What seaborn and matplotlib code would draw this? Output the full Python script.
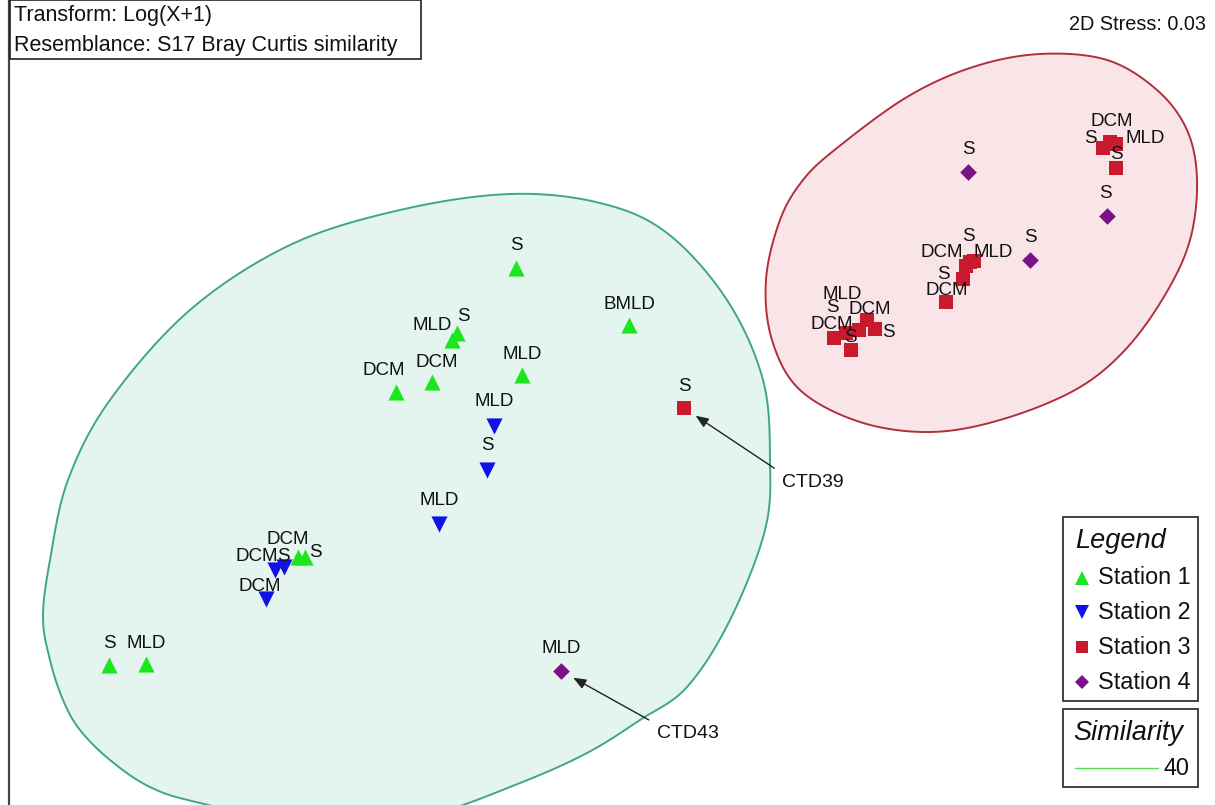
import numpy as np
import pandas as pd
import seaborn as sns
import matplotlib
matplotlib.use("Agg")
import matplotlib.pyplot as plt
from matplotlib.patches import Polygon, Rectangle
from matplotlib.lines import Line2D

# ---------------- data (NMDS coordinates) ----------------
station = (["Station 1"] * 11 + ["Station 2"] * 6 + ["Station 3"] * 16 + ["Station 4"] * 4)
depth = ["S", "BMLD", "MLD", "S", "DCM", "DCM", "MLD", "DCM", "S", "S", "MLD",
         "MLD", "S", "MLD", "DCM", "S", "DCM",
         "S", "S", "DCM", "MLD", "S", "S", "DCM", "MLD", "S", "DCM",
         "DCM", "S", "DCM", "S", "MLD", "S",
         "S", "S", "S", "MLD"]
mds1 = [-0.84, 0.29, -1.48, -1.43, -2.04, -1.68, -0.78, -3.02, -2.95, -4.91, -4.54,
        -1.06, -1.13, -1.61, -3.25, -3.16, -3.34,
        0.84, 5.03, 5.10, 5.16, 5.16, 3.70, 3.66, 3.74, 3.63, 3.46,
        2.34, 2.51, 2.67, 2.75, 2.46, 2.59,
        3.68, 5.07, 4.30, -0.39]
mds2 = [1.32, 0.75, 0.60, 0.67, 0.08, 0.18, 0.25, -1.57, -1.57, -2.65, -2.64,
        -0.26, -0.70, -1.24, -1.70, -1.67, -1.99,
        -0.08, 2.52, 2.58, 2.56, 2.32, 1.38, 1.34, 1.39, 1.21, 0.98,
        0.62, 0.50, 0.80, 0.71, 0.67, 0.70,
        2.28, 1.84, 1.40, -2.71]

# label offsets (pixels) for each sample label
lab_dx = [0, 0, -20, 6, -12, 5, 0, -10, 10, 0, 0,
          0, 0, 0, -18, -1, -6,
          0, -13, 2, 29, 0, -2, -24, 19, -20, 1,
          -2, -1, 3, 13, -4, -27,
          0, -2, 0, 0]
lab_dy = [25, 23, 17, 19, 24, 22, 23, 20, 7, 24, 23,
          27, 27, 26, 16, 13, 15,
          24, 12, 23, 8, 16, 28, 16, 11, 7, 14,
          16, 15, 13, -1, 41, 25,
          25, 25, 25, 25]

# 40% similarity contours (NMDS units)
green_x = [-2.00, -0.90, 0.00, 0.67, 1.27, 1.63, 1.70, 1.65, 1.30, 0.87, 0.40, -0.13,
           -0.80, -1.70, -2.70, -4.00, -4.50, -4.90, -5.20, -5.37, -5.50, -5.57,
           -5.50, -5.32, -4.90, -4.10, -3.10]
green_y = [1.90, 2.06, 1.97, 1.67, 1.00, 0.20, -0.60, -1.30, -2.20, -2.87, -3.20, -3.53,
           -3.83, -4.15, -4.30, -4.03, -3.87, -3.60, -3.30, -3.00, -2.60, -2.17,
           -1.60, -0.80, 0.00, 0.90, 1.55]
red_x = [2.37, 3.07, 3.73, 4.40, 5.07, 5.57, 5.87, 5.97, 5.90, 5.65, 5.25, 4.75,
         4.00, 3.30, 2.60, 2.00, 1.72, 1.66, 1.80, 2.03]
red_y = [2.52, 3.03, 3.33, 3.46, 3.40, 3.10, 2.70, 2.20, 1.60, 1.05, 0.50, 0.10,
         -0.20, -0.32, -0.22, 0.10, 0.60, 1.20, 1.80, 2.20]

stations = ["Station 1", "Station 2", "Station 3", "Station 4"]
markers = {"Station 1": "^", "Station 2": "v", "Station 3": "s", "Station 4": "D"}
palette = {"Station 1": "#1ee61e", "Station 2": "#1212e6", "Station 3": "#c81a2c", "Station 4": "#7a1186"}
sizes = {"Station 1": 135, "Station 2": 135, "Station 3": 100, "Station 4": 72}

annot_idx = [17, 36]
annot_txt = ["CTD39", "CTD43"]
annot_off = [(129, -72), (127, -60)]

# ---------------- figure ----------------
W, H = 1215, 805
sns.set_theme(style="white")
plt.rcParams["font.family"] = ["Liberation Sans", "DejaVu Sans"]

fig = plt.figure(figsize=(W / 100, H / 100), dpi=100)
fig.patch.set_facecolor("white")
ax = fig.add_axes([9 / W, 0, 1 - 9 / W, 1])
ax.set_xlim(-5.91, 6.15)
ax.set_ylim(-4.05, 4.00)
ax.set_xticks([])
ax.set_yticks([])
for k in ["right", "bottom", "top"]:
    ax.spines[k].set_visible(False)
ax.spines["left"].set_color("#444444")
ax.spines["left"].set_linewidth(1.6)


def smooth_closed(xs, ys, n=40):
    P = np.column_stack([xs, ys])
    N = len(P)
    out = []
    t = np.linspace(0, 1, n, endpoint=False)[:, None]
    for i in range(N):
        p0, p1, p2, p3 = P[(i - 1) % N], P[i], P[(i + 1) % N], P[(i + 2) % N]
        out.append(0.5 * ((2 * p1) + (-p0 + p2) * t + (2 * p0 - 5 * p1 + 4 * p2 - p3) * t ** 2
                          + (-p0 + 3 * p1 - 3 * p2 + p3) * t ** 3))
    return np.vstack(out)


ax.add_patch(Polygon(smooth_closed(green_x, green_y), closed=True, facecolor="#e4f4ee",
                     edgecolor="#3fa882", lw=1.4, zorder=1))
ax.add_patch(Polygon(smooth_closed(red_x, red_y), closed=True, facecolor="#f9e5e7",
                     edgecolor="#b0303c", lw=1.4, zorder=1))

df = pd.DataFrame({"station": station, "depth": depth, "mds1": mds1, "mds2": mds2})
for st in stations:
    sub = df[df["station"] == st]
    sns.scatterplot(data=sub, x="mds1", y="mds2", marker=markers[st], color=palette[st],
                    s=sizes[st], linewidth=0, ax=ax, legend=False, zorder=3)
ax.set_xlabel("")
ax.set_ylabel("")

for i in range(len(df)):
    ax.annotate(df["depth"][i], (df["mds1"][i], df["mds2"][i]),
                xytext=(lab_dx[i], lab_dy[i] - 2), textcoords="offset pixels",
                ha="center", va="center", fontsize=13.5, color="#111111", zorder=5)

for idx, txt, off in zip(annot_idx, annot_txt, annot_off):
    ax.annotate(txt, (df["mds1"][idx], df["mds2"][idx]), xytext=(off[0], off[1] - 2),
                textcoords="offset pixels",
                ha="center", va="center", fontsize=14, color="#111111", zorder=5,
                arrowprops=dict(arrowstyle="-|>,head_length=0.55,head_width=0.22",
                                color="#222222", lw=1.0, shrinkA=4, shrinkB=10,
                                relpos=(0, 1), mutation_scale=14))


def fx(px):
    return px / W


def fy(py):
    return 1 - py / H


# top-left info box
fig.add_artist(Rectangle((fx(10), fy(59)), (421 - 10) / W, 59 / H, transform=fig.transFigure,
                         facecolor="white", edgecolor="#222222", lw=1.2, zorder=10))
fig.text(fx(14), fy(15), "Transform: Log(X+1)", ha="left", va="center", fontsize=15.5,
         color="#111111", zorder=11)
fig.text(fx(14), fy(46), "Resemblance: S17 Bray Curtis similarity", ha="left", va="center",
         fontsize=15.5, color="#111111", zorder=11)
fig.text(fx(1206), fy(25), "2D Stress: 0.03", ha="right", va="center", fontsize=14.3,
         color="#111111", zorder=11)

# station legend
fig.add_artist(Rectangle((fx(1063), fy(701)), (1198 - 1063) / W, (701 - 517) / H,
                         transform=fig.transFigure, facecolor="white", edgecolor="#222222",
                         lw=1.2, zorder=10))
fig.text(fx(1075), fy(541), "Legend", ha="left", va="center", fontsize=19.5, style="italic",
         color="#111111", zorder=11)
leg_y = [578, 612, 647, 682]
leg_ms = {"Station 1": 10, "Station 2": 10, "Station 3": 8, "Station 4": 7.5}
for st, yy in zip(stations, leg_y):
    fig.add_artist(Line2D([fx(1082)], [fy(yy)], marker=markers[st], color=palette[st],
                          markersize=leg_ms[st], linestyle="none", markeredgewidth=0,
                          transform=fig.transFigure, zorder=11))
    fig.text(fx(1098), fy(yy), st, ha="left", va="center", fontsize=16.8, color="#111111",
             zorder=11)

# similarity legend
fig.add_artist(Rectangle((fx(1063), fy(787)), (1198 - 1063) / W, (787 - 709) / H,
                         transform=fig.transFigure, facecolor="white", edgecolor="#222222",
                         lw=1.2, zorder=10))
fig.text(fx(1073), fy(733), "Similarity", ha="left", va="center", fontsize=19.5,
         style="italic", color="#111111", zorder=11)
fig.add_artist(Line2D([fx(1075), fx(1158)], [fy(768), fy(768)], color="#55dd55", lw=1.0,
                      transform=fig.transFigure, zorder=11))
fig.text(fx(1163), fy(768), "40", ha="left", va="center", fontsize=16.8, color="#111111",
         zorder=11)

fig.savefig("out.png", dpi=100, facecolor="white")
